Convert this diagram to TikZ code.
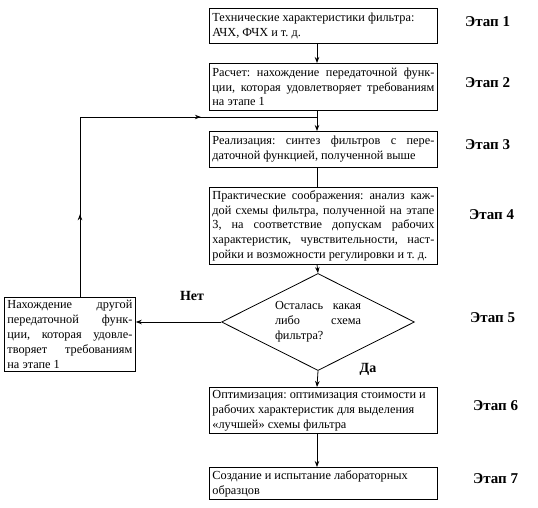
\documentclass[tikz,border=0pt]{standalone}
\usepackage{fontspec}
\setmainfont{Liberation Serif}
\usetikzlibrary{shapes.geometric,arrows.meta,decorations.markings}
\frenchspacing
\begin{document}
\begin{tikzpicture}[x=1pt,y=-1pt,
  txt/.style={font=\fontsize{12.3}{14.8}\selectfont\frenchspacing, align=justify,
    execute at begin node={\setlength{\parindent}{0pt}\tolerance=10000\hyphenpenalty=10000\emergencystretch=0pt}},
  box/.style={txt, draw, line width=0.8pt, rectangle, anchor=north west, inner sep=3pt,
    text width=222pt, minimum width=228pt},
  lbox/.style={box, text width=125pt, minimum width=131pt},
  dia/.style={txt, draw, line width=0.8pt, diamond, aspect=2, minimum width=193pt, minimum height=97pt,
    inner sep=2pt, text width=86pt},
  stage/.style={font=\fontsize{15}{17}\selectfont\bfseries, anchor=west, inner sep=0pt},
  ans/.style={font=\fontsize{14}{16}\selectfont\bfseries, inner sep=0pt},
  ln/.style={line width=0.8pt},
  arr/.style={ln, -{Stealth[length=6pt,width=4.5pt]}},
  mid/.style={ln, postaction={decorate}, decoration={markings,
    mark=at position #1 with {\arrow{Stealth[length=6pt,width=4.5pt]}}}}
]
\useasboundingbox (0,0) rectangle (538,508);

\node[box, minimum height=35pt] (b1) at (209,8)
  {Технические характеристики фильтра:\\ АЧХ, ФЧХ и т. д.};
\node[box, minimum height=47pt] (b2) at (209,63)
  {Расчет: нахождение передаточной функ-\linebreak
   ции, которая удовлетворяет требованиям\linebreak
   на этапе 1};
\node[box, minimum height=36pt] (b3) at (209,131)
  {Реализация: синтез фильтров с пере-\linebreak
   даточной функцией, полученной выше};
\node[box, minimum height=70pt] (b4) at (209,187)
  {Практические соображения: анализ каж-\linebreak
   дой схемы фильтра, полученной на этапе\linebreak
   3, на соответствие допускам рабочих\linebreak
   характеристик, чувствительности, наст-\linebreak
   ройки и возможности регулировки и т. д.};
\node[dia] (d5) at (318,322)
  {Осталась какая\linebreak
   либо схема\linebreak
   фильтра?};
\node[box, minimum height=45pt] (b6) at (209,387)
  {Оптимизация: оптимизация стоимости и\\
   рабочих характеристик для выделения\\
   «лучшей» схемы фильтра};
\node[box, minimum height=30pt] (b7) at (209,467)
  {Создание и испытание лабораторных\\ образцов};
\node[lbox, minimum height=66pt] (lb) at (4,297)
  {Нахождение другой\linebreak
   передаточной функ-\linebreak
   ции, которая удовле-\linebreak
   творяет требованиям\linebreak
   на этапе 1};

\node[stage] (s1) at (465,22) {Этап 1};
\node[stage] (s2) at (465,83) {Этап 2};
\node[stage] (s3) at (465,145) {Этап 3};
\node[stage] (s4) at (469,215) {Этап 4};
\node[stage] (s5) at (470,318) {Этап 5};
\node[stage] (s6) at (473,406) {Этап 6};
\node[stage] (s7) at (473,479) {Этап 7};

\node[ans] (no) at (192,296) {Нет};
\node[ans] (yes) at (368,369) {Да};

\coordinate (col) at (317,0);
\coordinate (fb) at (80,117);
\coordinate (join) at (317,117);

\draw[arr] (b1.south -| col) -- (b2.north -| col);
\draw[arr] (b2.south -| col) -- (b3.north -| col);
\draw[ln] (b3.south -| col) -- (b4.north -| col);
\draw[arr] (b4.south -| col) -- (d5.north);
\draw[arr] (d5.south) -- (b6.north -| col);
\draw[arr] (b6.south -| col) -- (b7.north -| col);
\draw[arr] (d5.west) -- (lb.east |- d5.west);
\draw[mid=0.46] (lb.north -| fb) -- (fb);
\draw[mid=0.51] (fb) -- (join);
\end{tikzpicture}
\end{document}
